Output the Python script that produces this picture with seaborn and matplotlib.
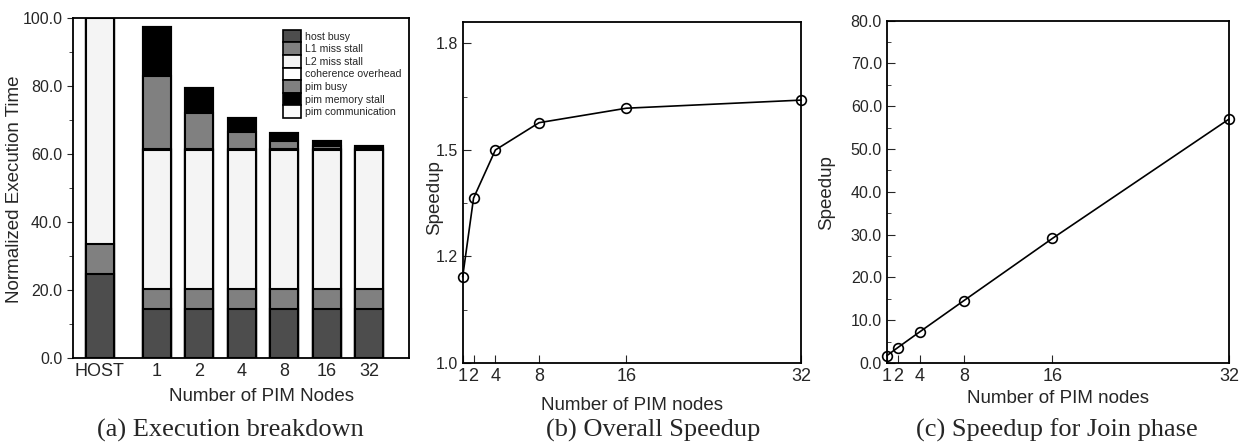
import numpy as np
import pandas as pd
import seaborn as sns
import matplotlib
matplotlib.use('Agg')
import matplotlib.pyplot as plt
from matplotlib.patches import Patch
from matplotlib.ticker import MultipleLocator, FormatStrFormatter

# DATA
bar_labels = ['HOST', '1', '2', '4', '8', '16', '32']
segments = ['host busy', 'L1 miss stall', 'L2 miss stall', 'coherence overhead',
            'pim busy', 'pim memory stall', 'pim communication']
host_busy = [24.6, 14.3, 14.3, 14.3, 14.3, 14.3, 14.3]
l1_stall = [8.8, 6.0, 6.0, 6.0, 6.0, 6.0, 6.0]
l2_stall = [66.6, 40.9, 40.9, 40.9, 40.9, 40.9, 40.9]
coherence = [0.0, 0.2, 0.2, 0.2, 0.2, 0.2, 0.2]
pim_busy = [0.0, 21.6, 10.6, 5.2, 2.5, 1.1, 0.5]
pim_mem = [0.0, 14.4, 7.4, 4.0, 2.2, 1.3, 0.6]
pim_comm = [0.0, 0.0, 0.0, 0.0, 0.0, 0.0, 0.0]
seg_colors = ['#4d4d4d', '#808080', '#f4f4f4', '#ffffff', '#808080', '#000000', '#fafafa']

nodes = [1, 2, 4, 8, 16, 32]
overall_speedup = [1.202, 1.387, 1.500, 1.564, 1.598, 1.617]
join_speedup = [1.7, 3.6, 7.3, 14.6, 29.1, 57.0]

sns.set_style('ticks')
plt.rcParams['font.family'] = ['Liberation Sans', 'DejaVu Sans']

narrow = ['Liberation Sans Narrow', 'Liberation Sans', 'DejaVu Sans']
YTICK_FS = 11.5
XTICK_FS = 13
LABEL_FS = 13.5


def style_ticks(ax):
    for lab in ax.get_xticklabels():
        lab.set_family(narrow)
        lab.set_fontsize(XTICK_FS)
    for lab in ax.get_yticklabels():
        lab.set_family(narrow)
        lab.set_fontsize(YTICK_FS)


fig = plt.figure(figsize=(12.39, 4.43), dpi=100)
ax_a = fig.add_axes([0.0587, 0.1926, 0.2713, 0.7661])
ax_b = fig.add_axes([0.3734, 0.1806, 0.2731, 0.7694])
ax_c = fig.add_axes([0.7157, 0.1806, 0.2762, 0.7727])

# (a) stacked bars, drawn from the top segment downwards
pos = np.array([0.0] + [1.34 + i for i in range(6)])
stack = np.cumsum(np.array([host_busy, l1_stall, l2_stall, coherence,
                            pim_busy, pim_mem, pim_comm]), axis=0)
for i in range(len(segments) - 1, -1, -1):
    df = pd.DataFrame({'pos': pos, 'val': stack[i]})
    sns.barplot(data=df, x='pos', y='val', native_scale=True, width=0.66,
                color=seg_colors[i], saturation=1, edgecolor='black',
                linewidth=1.5, errorbar=None, ax=ax_a)
ax_a.set_xlim(-0.64, 7.27)
ax_a.set_ylim(0, 100)
ax_a.set_xticks(pos)
ax_a.set_xticklabels(bar_labels)
ax_a.tick_params(axis='x', length=0, pad=4)
ax_a.yaxis.set_major_locator(MultipleLocator(20))
ax_a.yaxis.set_minor_locator(MultipleLocator(10))
ax_a.yaxis.set_major_formatter(FormatStrFormatter('%.1f'))
ax_a.tick_params(axis='y', which='major', direction='out', length=4)
ax_a.tick_params(axis='y', which='minor', direction='out', length=3)
ax_a.set_ylabel('Normalized Execution Time', fontsize=LABEL_FS)
ax_a.yaxis.set_label_coords(-0.148, 0.497)
ax_a.set_xlabel('Number of PIM Nodes', fontsize=LABEL_FS)
ax_a.xaxis.set_label_coords(0.563, -0.09)
handles = [Patch(facecolor=c, edgecolor='black', linewidth=1.2) for c in seg_colors]
ax_a.legend(handles, segments, loc='upper left', bbox_to_anchor=(0.625, 0.966),
            frameon=False, fontsize=7.6, handlelength=1.75, handleheight=1.46,
            labelspacing=0.0, handletextpad=0.35, borderpad=0, borderaxespad=0)

# (b) overall speedup
sns.lineplot(x=nodes, y=overall_speedup, color='black', marker='o', ms=7,
             markerfacecolor='none', markeredgecolor='black', mew=1.2,
             linewidth=1.2, clip_on=False, ax=ax_b)
ax_b.set_xlim(1, 32)
ax_b.set_ylim(1.0, 1.8)
ax_b.yaxis.set_major_locator(MultipleLocator(0.25))
ax_b.yaxis.set_minor_locator(MultipleLocator(0.125))
ax_b.yaxis.set_major_formatter(FormatStrFormatter('%.1f'))
ax_b.set_ylabel('Speedup', fontsize=LABEL_FS)
ax_b.yaxis.set_label_coords(-0.058, 0.484)
ax_b.set_xlabel('Number of PIM nodes', fontsize=LABEL_FS, labelpad=9)

# (c) join phase speedup
sns.lineplot(x=nodes, y=join_speedup, color='black', marker='o', ms=7,
             markerfacecolor='none', markeredgecolor='black', mew=1.2,
             linewidth=1.2, clip_on=False, ax=ax_c)
ax_c.set_xlim(1, 32)
ax_c.set_ylim(0, 80)
ax_c.yaxis.set_major_locator(MultipleLocator(10))
ax_c.yaxis.set_minor_locator(MultipleLocator(5))
ax_c.yaxis.set_major_formatter(FormatStrFormatter('%.1f'))
ax_c.set_ylabel('Speedup', fontsize=LABEL_FS)
ax_c.yaxis.set_label_coords(-0.151, 0.497)
ax_c.set_xlabel('Number of PIM nodes', fontsize=LABEL_FS, labelpad=4)

for ax in (ax_b, ax_c):
    ax.set_xticks(nodes)
    ax.tick_params(axis='both', which='major', direction='in', length=6,
                   top=False, right=False)
    ax.tick_params(axis='y', which='minor', direction='in', length=3,
                   right=False)

for ax in (ax_a, ax_b, ax_c):
    style_ticks(ax)
    for sp in ax.spines.values():
        sp.set_linewidth(1.3)
        sp.set_color('black')
        sp.set_visible(True)

caption_font = ['Liberation Serif', 'DejaVu Serif']
fig.text(230 / 1239, 1 - 430 / 443, '(a) Execution breakdown', ha='center',
         va='center', fontsize=19, family=caption_font)
fig.text(653 / 1239, 1 - 430 / 443, '(b) Overall Speedup', ha='center',
         va='center', fontsize=19, family=caption_font)
fig.text(1057 / 1239, 1 - 430 / 443, '(c) Speedup for Join phase', ha='center',
         va='center', fontsize=19, family=caption_font)

fig.savefig('out.png', dpi=100)
